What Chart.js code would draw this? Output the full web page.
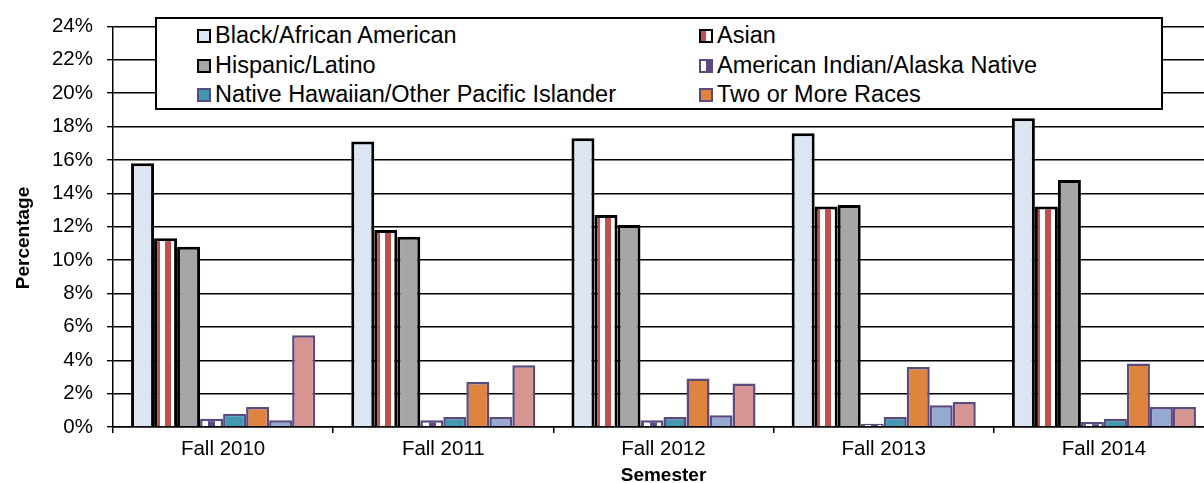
<!DOCTYPE html>
<html>
<head>
<meta charset="utf-8">
<script src="https://cdn.jsdelivr.net/npm/chart.js@4/dist/chart.umd.min.js"></script>
<style>
  html, body { margin: 0; padding: 0; background: #fff; overflow: hidden; width: 1204px; height: 483px; }
  #wrap { position: relative; width: 1204px; height: 483px; overflow: hidden; }
  #chart { position: absolute; left: 0; top: 0; }
  #legend {
    position: absolute; left: 155px; top: 17px; width: 1004px; height: 89px;
    background: #fff; border: 2px solid #000;
    font-family: "Liberation Sans", Arial, sans-serif; font-size: 23.5px; color: #000;
  }
  .item { position: absolute; height: 30px; line-height: 30px; white-space: nowrap; }
  .box { position: absolute; left: 0; top: 9px; width: 10px; height: 10px; border: 2px solid #000; }
  .txt { position: absolute; left: 18px; top: 0; }
</style>
</head>
<body>
<div id="wrap">
  <canvas id="chart" width="1214" height="483"></canvas>
  <div id="legend"></div>
</div>
<script>
const semesters = ['Fall 2010', 'Fall 2011', 'Fall 2012', 'Fall 2013', 'Fall 2014'];
const seriesNames = [
  'Black/African American', 'Asian', 'Hispanic/Latino', 'American Indian/Alaska Native',
  'Native Hawaiian/Other Pacific Islander', 'Two or More Races', 'Unknown', 'Nonresident Alien'
];
const blackAA = [15.8, 17.1, 17.3, 17.6, 18.5];
const asian = [11.3, 11.8, 12.7, 13.2, 13.2];
const hispanic = [10.8, 11.4, 12.1, 13.3, 14.8];
const amIndian = [0.5, 0.4, 0.4, 0.2, 0.3];
const hawaiian = [0.8, 0.6, 0.6, 0.6, 0.5];
const twoOrMore = [1.2, 2.7, 2.9, 3.6, 3.8];
const unknown = [0.4, 0.6, 0.7, 1.3, 1.2];
const nonresident = [5.5, 3.7, 2.6, 1.5, 1.2];
const yTicks = [0, 2, 4, 6, 8, 10, 12, 14, 16, 18, 20, 22, 24];

const FONT = '"Liberation Sans", Arial, sans-serif';
const PURPLE = '#5B4A7E';

function stripes(a, aw, b, bw, h) {
  const c = document.createElement('canvas');
  c.width = aw + bw; c.height = h || 1;
  const x = c.getContext('2d');
  x.fillStyle = a; x.fillRect(0, 0, aw, c.height);
  x.fillStyle = b; x.fillRect(aw, 0, bw, c.height);
  return c;
}
const ctx = document.getElementById('chart').getContext('2d');
const asianPat = ctx.createPattern(stripes('#C0504D', 6, '#ffffff', 5), 'repeat');
const amIndPat = ctx.createPattern(stripes(PURPLE, 7, '#ffffff', 6), 'repeat');

const values = [blackAA, asian, hispanic, amIndian, hawaiian, twoOrMore, unknown, nonresident];
const fills = ['#DCE6F2', asianPat, '#A6A6A6', amIndPat, '#4198B0', '#DE843F', '#95A9D3', '#D69593'];
const legendFills = ['#DCE6F2', 'linear-gradient(90deg,#C0504D 50%,#fff 50%)', '#A6A6A6',
  'linear-gradient(90deg,#fff 45%,' + PURPLE + ' 45%)', '#4198B0', '#DE843F'];
const borders = ['#000', '#000', '#000', PURPLE, PURPLE, PURPLE, PURPLE, PURPLE];

const datasets = values.map((v, i) => ({
  label: seriesNames[i],
  data: v,
  backgroundColor: fills[i],
  borderColor: borders[i],
  borderWidth: i < 3 ? 3 : 2.5,
  categoryPercentage: 0.836,
  barPercentage: 1
}));

const yTitle = {
  id: 'yTitle',
  afterDraw(chart) {
    const c = chart.ctx;
    c.save();
    c.translate(24, 238);
    c.rotate(-Math.PI / 2);
    c.font = 'bold 19px ' + FONT;
    c.fillStyle = '#000';
    c.textAlign = 'center';
    c.textBaseline = 'middle';
    c.fillText('Percentage', 0, 0);
    c.restore();
  }
};

new Chart(ctx, {
  type: 'bar',
  data: { labels: semesters, datasets: datasets },
  plugins: [yTitle],
  options: {
    responsive: false,
    animation: false,
    devicePixelRatio: 1,
    layout: { padding: { top: 19, left: 0, right: 0, bottom: 0 } },
    plugins: { legend: { display: false }, tooltip: { enabled: false } },
    scales: {
      x: {
        afterFit(s) { s.height = 56; },
        grid: { display: true, drawOnChartArea: false, offset: true, tickLength: 6, color: '#000', lineWidth: 1.5 },
        border: { color: '#000', width: 1.5 },
        ticks: { color: '#000', padding: 4, font: { family: FONT, size: 20.5 } },
        title: { display: true, text: 'Semester', color: '#000', font: { family: FONT, size: 19, weight: 'bold', lineHeight: 1 }, padding: { top: 0, bottom: -2 } }
      },
      y: {
        min: 0, max: 24,
        afterFit(s) { s.width = 113; },
        afterBuildTicks(s) { s.ticks = yTicks.map(v => ({ value: v })); },
        grid: { color: '#000', lineWidth: 1.4, tickLength: 6, tickColor: '#000' },
        border: { color: '#000', width: 1.5 },
        ticks: { color: '#000', padding: 14, font: { family: FONT, size: 20.5 }, callback: v => v + '%' }
      }
    }
  }
});

// legend: first six series, two columns
const lg = document.getElementById('legend');
const colX = [40, 542];
const rowY = [1, 31, 60];
for (let i = 0; i < 6; i++) {
  const it = document.createElement('div');
  it.className = 'item';
  it.style.left = colX[i % 2] + 'px';
  it.style.top = rowY[Math.floor(i / 2)] + 'px';
  const b = document.createElement('span');
  b.className = 'box';
  b.style.background = legendFills[i];
  b.style.borderColor = borders[i];
  const t = document.createElement('span');
  t.className = 'txt';
  t.textContent = seriesNames[i];
  it.appendChild(b); it.appendChild(t);
  lg.appendChild(it);
}
</script>
</body>
</html>
